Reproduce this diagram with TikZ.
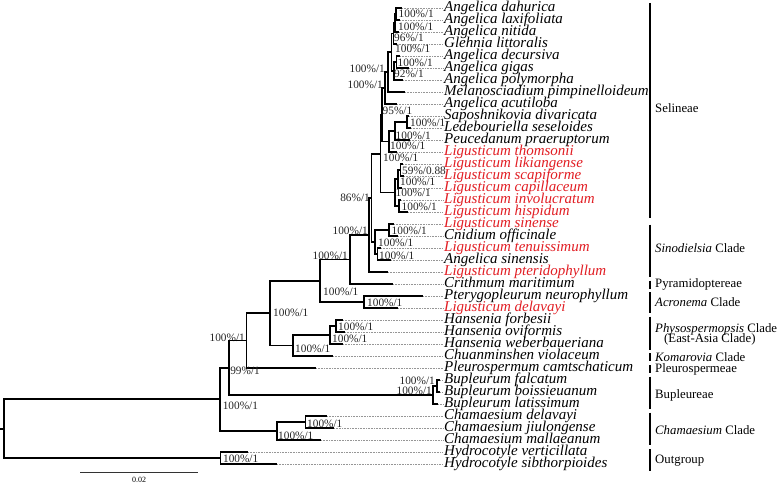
\documentclass[tikz,border=0pt]{standalone}
\usepackage{fontspec}
\setmainfont{Liberation Serif}
\usetikzlibrary{calc}
\definecolor{lred}{RGB}{226,30,36}
\definecolor{dotgray}{RGB}{150,150,150}
\tikzset{
  br/.style={line width=1.8pt},
  lead/.style={dotgray,line width=0.6pt,dash pattern=on 0.8pt off 0.8pt,shorten >=1pt},
  taxon/.style={anchor=base west,inner sep=0,font=\fontsize{15}{15}\selectfont\itshape},
  bs/.style={inner sep=0,font=\fontsize{11.3}{11.3}\selectfont,text=black!85},
  bsr/.style 2 args={anchor=west,xshift=#1,yshift=#2},
  bsl/.style 2 args={anchor=east,xshift=#1,yshift=#2},
  bar/.style={line width=1.8pt},
  grp/.style={anchor=west,inner sep=0,font=\fontsize{12.8}{12.8}\selectfont}
}
% internal node: name, x, upper child, lower child, support, label place
\newcommand\nd[6]{%
  \coordinate (m#1) at ($(#3)!.5!(#4)$);
  \coordinate (#1) at (#2,0 |- m#1);
  \draw[br] (#3) -| (#1) |- (#4);
  \node[bs,#6] (b#1) at (#1) {#5};
}
\begin{document}
\begin{tikzpicture}[x=1pt,y=-1pt]
  \fill[white] (0,0) rectangle (778,484);
  \useasboundingbox (0,0) rectangle (778,484);
  % tips
  \foreach \nm/\i/\tx/\col/\lab in {
    dah/1/402/black/Angelica dahurica, lax/2/400/black/Angelica laxifoliata,
    nit/3/399/black/Angelica nitida, gle/4/397/black/Glehnia littoralis,
    dec/5/400/black/Angelica decursiva, gig/6/409/black/Angelica gigas,
    pol/7/403/black/Angelica polymorpha, mel/8/405/black/Melanosciadium pimpinelloideum,
    acu/9/397/black/Angelica acutiloba, sap/10/409/black/Saposhnikovia divaricata,
    led/11/411/black/Ledebouriella seseloides, peu/12/410/black/Peucedanum praeruptorum,
    tho/13/397/lred/Ligusticum thomsonii, lik/14/403/lred/Ligusticum likiangense,
    sca/15/404/lred/Ligusticum scapiforme, cap/16/402/lred/Ligusticum capillaceum,
    inv/17/401/lred/Ligusticum involucratum, his/18/408/lred/Ligusticum hispidum,
    sin/19/394/lred/Ligusticum sinense, cni/20/398/black/Cnidium officinale,
    ten/21/381/lred/Ligusticum tenuissimum, ase/22/391/black/Angelica sinensis,
    pte/23/388/lred/Ligusticum pteridophyllum, cri/24/393/black/Crithmum maritimum,
    pty/25/423/black/Pterygopleurum neurophyllum, del/26/398/lred/Ligusticum delavayi,
    hfo/27/343/black/Hansenia forbesii, hov/28/345/black/Hansenia oviformis,
    hwe/29/343/black/Hansenia weberbaueriana, chu/30/333/black/Chuanminshen violaceum,
    ple/31/316/black/Pleurospermum camtschaticum, bfa/32/440/black/Bupleurum falcatum,
    bbo/33/440/black/Bupleurum boissieuanum, bla/34/438/black/Bupleurum latissimum,
    cde/35/327/black/Chamaesium delavayi, cji/36/334/black/Chamaesium jiulongense,
    cma/37/321/black/Chamaesium mallaeanum, hve/38/248/black/Hydrocotyle verticillata,
    hsi/39/277/black/Hydrocotyle sibthorpioides}{
    \pgfmathsetmacro\yy{8+12*(\i-1)}
    \coordinate (\nm) at (\tx,\yy);
    \node[taxon,text=\col] (l\nm) at (444,\yy+3.5) {\lab};
    \draw[lead] (\nm) -- (\nm -| l\nm.west);
  }
  % Selineae
  \nd{n12}{396}{dah}{lax}{100\%/1}{bsr={2.5pt}{0pt}}
  \nd{n123}{395}{n12}{nit}{100\%/1}{bsr={3pt}{-3.5pt}}
  \nd{n1234}{393.5}{n123}{gle}{96\%/1}{bsr={0.5pt}{-4pt}}
  \nd{n56}{396.5}{dec}{gig}{100\%/1}{bsr={1pt}{-0.5pt}}
  \nd{n567}{394}{n56}{pol}{92\%/1}{bsr={0pt}{-2.5pt}}
  \nd{ncore}{391.5}{n1234}{n567}{100\%/1}{bsr={3.5pt}{3.5pt}}
  \nd{nmel}{388}{ncore}{mel}{100\%/1}{bsl={-3pt}{3.5pt}}
  \nd{nacu}{385}{nmel}{acu}{100\%/1}{bsl={-2pt}{3pt}}
  \nd{nsl}{407}{sap}{led}{100\%/1}{bsr={3pt}{-1pt}}
  \nd{npeu}{395}{nsl}{peu}{100\%/1}{bsr={0.5pt}{-4.5pt}}
  \nd{ntho}{389}{npeu}{tho}{100\%/1}{bsr={1pt}{-4pt}}
  \nd{n95}{382}{nacu}{ntho}{95\%/1}{bsr={0.5pt}{3.5pt}}
  \nd{nls}{400.5}{lik}{sca}{59\%/0.88}{bsr={1.5pt}{-1pt}}
  \nd{nlsc}{398}{nls}{cap}{100\%/1}{bsr={2pt}{-3pt}}
  \nd{nih}{399}{inv}{his}{100\%/1}{bsr={2.5pt}{-1pt}}
  \nd{nlig}{395}{nlsc}{nih}{100\%/1}{bsr={0.5pt}{0pt}}
  \nd{nsel}{380.5}{n95}{nlig}{100\%/1}{bsr={2.5pt}{-4pt}}
  % Sinodielsia and the rest
  \nd{nsc}{389}{sin}{cni}{100\%/1}{bsr={2.5pt}{-0.5pt}}
  \nd{nts}{377.5}{ten}{ase}{100\%/1}{bsr={1.5pt}{-2pt}}
  \nd{nsin}{375}{nsc}{nts}{100\%/1}{bsr={3pt}{-0.5pt}}
  \nd{n86}{371.5}{nsel}{nsin}{86\%/1}{bsl={-1.5pt}{0pt}}
  \nd{npt}{369}{n86}{pte}{100\%/1}{bsl={-1pt}{4pt}}
  \nd{npyr}{350}{npt}{cri}{100\%/1}{bsl={-2pt}{4pt}}
  \nd{nacr}{364}{pty}{del}{100\%/1}{bsr={3pt}{-0.5pt}}
  \nd{nsa}{320}{npyr}{nacr}{100\%/1}{bsr={3pt}{-11.5pt}}
  \nd{nfo}{336}{hfo}{hov}{100\%/1}{bsr={2pt}{-1pt}}
  \nd{nhan}{330}{nfo}{hwe}{100\%/1}{bsr={2pt}{-3.5pt}}
  \nd{nhc}{293}{nhan}{chu}{100\%/1}{bsr={2pt}{-3pt}}
  \nd{nsh}{270}{nsa}{nhc}{100\%/1}{bsr={3pt}{0pt}}
  \nd{npl}{246.5}{nsh}{ple}{100\%/1}{bsl={-1.5pt}{3pt}}
  \nd{nbu2}{437}{bfa}{bbo}{100\%/1}{bsl={-2pt}{5pt}}
  \nd{nbu}{433}{nbu2}{bla}{100\%/1}{bsl={-1pt}{4.5pt}}
  \nd{nb}{228.6}{npl}{nbu}{99\%/1}{bsr={1.5pt}{-3pt}}
  \nd{nch2}{305.5}{cde}{cji}{100\%/1}{bsr={1.5pt}{-1.5pt}}
  \nd{nch}{277}{nch2}{cma}{100\%/1}{bsr={1pt}{-4.5pt}}
  \nd{nin}{219.6}{nb}{nch}{100\%/1}{bsr={3pt}{-6pt}}
  \nd{nout}{220.4}{hve}{hsi}{100\%/1}{bsr={2.5pt}{-1pt}}
  % root
  \coordinate (mroot) at ($(nin)!.5!(nout)$);
  \coordinate (root) at (4.3,0 |- mroot);
  \coordinate (stub) at (0,0 |- mroot);
  \draw[br] (nin) -| (root) |- (nout);
  \draw[br] (root) -- (stub);
  % clades
  \draw[bar] (650,3) -- (650,217.5);
  \node[grp] (selineae) at (655,108.5) {Selineae};
  \draw[bar] (650,224.5) -- (650,276.5);
  \node[grp] (sinod) at (655,248.5) {\textit{Sinodielsia} Clade};
  \draw[bar] (650,280.5) -- (650,288.5);
  \node[grp] (pyram) at (655,284.5) {Pyramidoptereae};
  \draw[bar] (650,292) -- (650,313);
  \node[grp] (acron) at (655,302.5) {\textit{Acronema} Clade};
  \draw[bar] (650,316.5) -- (650,350);
  \node[grp] (physo) at (655,329) {\textit{Physospermopsis} Clade};
  \node[grp] (easia) at (664,339.5) {(East-Asia Clade)};
  \draw[bar] (650,353) -- (650,361);
  \node[grp] (komar) at (655,357) {\textit{Komarovia} Clade};
  \draw[bar] (650,365) -- (650,373);
  \node[grp] (pleur) at (655,369.5) {Pleurospermeae};
  \draw[bar] (650,376.5) -- (650,408.5);
  \node[grp] (bupl) at (655,395.5) {Bupleureae};
  \draw[bar] (650,412.5) -- (650,444.5);
  \node[grp] (chama) at (655,430.5) {\textit{Chamaesium} Clade};
  \draw[bar] (650,449) -- (650,471);
  \node[grp] (outg) at (655,460.5) {Outgroup};
  % scale
  \coordinate (s0) at (80.4,472);
  \coordinate (s1) at (198.2,472);
  \draw[line width=0.8pt,black!80] (s0) -- (s1);
  \node[inner sep=0,font=\fontsize{8}{8}\selectfont] (slab) at (139,479.5) {0.02};
\end{tikzpicture}
\end{document}
